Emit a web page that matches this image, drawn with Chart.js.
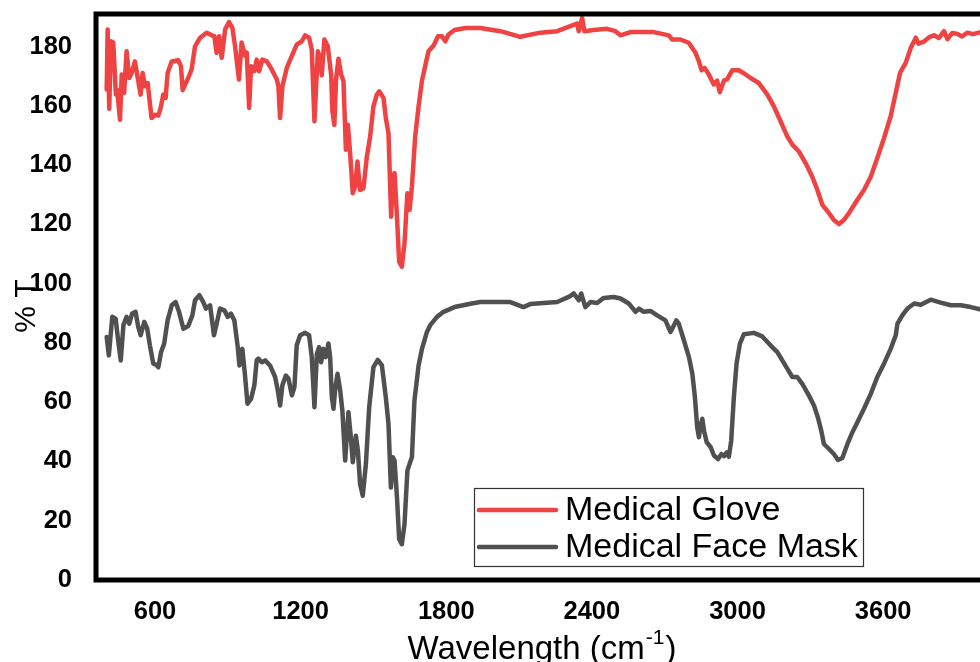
<!DOCTYPE html>
<html>
<head>
<meta charset="utf-8">
<script src="https://cdn.jsdelivr.net/npm/chart.js@4.4.1/dist/chart.umd.min.js"></script>
<style>
  html, body { margin: 0; padding: 0; background: #fff; overflow: hidden; width: 980px; height: 662px; }
  #wrap { position: relative; width: 1000px; height: 662px; }
</style>
</head>
<body>
<div id="wrap"><canvas id="c" width="1000" height="662"></canvas></div>
<script>
const seriesNames = ['Medical Glove', 'Medical Face Mask'];
const xTickValues = [600, 1200, 1800, 2400, 3000, 3600];
const yTickValues = [0, 20, 40, 60, 80, 100, 120, 140, 160, 180];
const xTitle = 'Wavelength (cm';
const xTitleSup = '-1';
const xTitleEnd = ')';
const yTitle = '% T';

const gloveWn = [401,405,411.5,418.5,428,439,444,456,463,473,483,494,504,517.5,527,541,549,559,570,576.5,586,600,613.6,623.5,634,644,652,669,696,707,714,724,737,751,765,786,813,834,844.5,854,864,875,889,905,919,930,946,957,971,978,988,996,1009.5,1019,1029,1042,1061,1081,1102,1108.5,1115.5,1125,1143,1164,1184,1205,1218.6,1235,1246,1257,1271,1277.5,1287,1298,1312,1326,1331,1339,1346,1356,1367,1376.5,1386.5,1394.7,1404,1415,1425,1434,1445,1459,1473,1486.6,1500,1514,1524,1541.5,1551,1562,1573,1580,1587,1597,1606,1617,1628,1640,1649,1658.6,1672,1686,1700,1716,1727,1748,1766,1782,1796,1809.5,1834,1880,1940,2023,2105,2188,2257,2311.5,2339,2346,2360,2369,2407.6,2463,2497,2518,2559,2655,2717,2731,2765,2799,2827,2841,2852,2864.5,2882,2902,2916,2927,2944,2958,2978,3005.5,3026,3053.8,3088,3123,3150,3177.5,3205,3226,3253,3280.6,3308,3329,3349.5,3377,3397,3418,3438.6,3459,3494,3521,3549,3576,3603.5,3631,3652,3669.5,3693,3714,3734.6,3745,3768.5,3790,3810,3830,3851,3865,3885,3906,3925,3947,3970,4002];
const gloveT = [165.5,185.8,159,181.8,181.4,163.8,165.5,155.3,170.6,164.4,178.4,169.4,171.1,175,170.3,163.8,171.1,166.6,167.7,162.7,155.9,157,156.7,159.3,163.8,162.7,171.1,175,175.4,173.4,165.3,167.2,169.4,172.3,180.1,183,184.7,183.8,183.5,177.9,183.5,176.2,185.8,188.3,186.3,180.1,168.9,181.4,176.9,178,159.3,173.4,171.7,175.6,171.7,175.6,175,172.3,168.9,166.6,155.9,166.6,172.8,176.9,180.7,181.8,183.8,183,179,154.8,178.4,176.9,170.3,182.4,180.1,170.3,158.1,153.6,168.9,175.9,170.6,168.5,145.2,153.6,144.1,130.5,132.8,141.2,131.6,132.2,142.9,149.7,159.8,163.8,164.9,162.7,155.9,150.8,122.6,136.2,137.3,122.6,107.4,105.7,113.6,130.5,124.9,132.8,149.7,159.8,168.5,174.5,178.4,180.4,183.5,183.5,181.8,184.1,185.6,186.3,186.3,185.2,183.3,184.7,185.2,186.9,187.8,185.2,189.7,185.2,185.6,186,185.2,183.8,184.9,184.9,183.8,182.4,182.4,181.3,177.9,175,172,172.8,170.6,167.2,168.5,164.6,168.5,169,172,172,171,169.4,167.7,163.8,159.8,154.8,149.7,146.9,144.6,140.7,136.1,131.6,126.6,123.8,121.5,120.1,121.5,123.8,128.3,131.6,136.1,142.4,149.1,156.4,164.4,171.1,174.5,179.6,183,181,181.7,183.2,183.8,182.9,185.2,182.5,184.6,184.3,183.4,184.7,184.2,184.9];

const maskWn = [401,410,424,438,449,459,470,483,494,506,520,531,541,556,568,579,593,604,614,625,638,652,669,685,699,717,737,754,765,783,799,810,827,843,854,868,886,900,913,927,941,948,960,971,981,996,1009.5,1019,1026,1040,1054,1074,1095,1106,1115.5,1125,1139,1150,1164,1174.5,1184,1198,1218.6,1235,1246,1257,1267,1276,1284.6,1294,1304,1314.7,1321.7,1328.7,1335.5,1342,1352,1363,1372,1383.6,1397,1407,1415,1427.7,1436,1445,1456,1469,1482.5,1500,1518,1535,1551,1562,1572,1580,1587,1597,1606,1617,1628,1640,1649,1658.6,1669,1686,1700,1720.5,1734,1762,1789,1834,1900,1940,2064,2118,2146,2257,2311.5,2325,2346,2356,2373,2394,2421.5,2449,2490,2518,2552,2580,2594,2614,2641,2669,2703,2724,2748,2758,2779,2800,2814,2824.5,2834,2841,2848,2855,2862,2873,2889.6,2903,2920,2934,2945,2956,2964.5,2974,2985,2996,3010,3026,3067.5,3102,3136,3164,3184.5,3205,3226,3246,3267,3294,3315,3331,3345,3356,3377,3397,3414,3432,3453,3473,3494,3521,3549,3576,3603.5,3631,3652,3659,3679,3700,3728,3755,3796,3837,3878.5,3920,3961,4002];
const maskT = [82,75.8,88.8,88.2,80.3,74.1,86,88.8,86.5,89.9,90.5,85.4,82.6,87.1,84.8,79.2,73,72.7,71.8,76.9,79.8,87.6,92.7,93.8,90.5,84.8,85.7,89.3,94.4,96.1,93.8,91.6,92.7,82.6,86.5,91.6,91,88.8,89.9,87.6,78.6,72.4,78,69,59.5,61.2,65.7,74.1,74.7,73.5,74.1,72.4,68.5,64,58.9,65.7,69,67.9,62.3,65.1,79.2,82.6,83.4,82.6,75.2,58.3,76.3,78.6,73.5,78,75.2,79.8,75.2,61.7,57.8,64,69.6,64,57.2,40.3,56.6,48.2,39.7,48.7,43.7,32.4,28.4,39.2,58.3,71.8,74.3,72.4,61.7,52.7,31.2,41.4,40.3,27.9,13.8,12.1,18.8,36.9,39.2,41.4,60.6,72.4,78,83.7,86,88.8,90.5,92.1,93.2,93.8,93.8,92.1,93.1,93.8,95.8,96.7,94.4,96.7,92.1,93.8,93.5,95.2,95.5,95,93.3,90.5,91.6,90.5,90.8,89.3,87.6,83.7,87.6,86.5,80.9,75.2,69.6,61.7,51.5,48.2,52.1,54.4,50.4,46.5,44.8,42,40.8,42.5,41.8,43.1,41.6,47,61.7,73,79.8,82.9,83.4,82.2,79.2,76.9,74.1,71.3,68.5,68.5,66.2,62.3,58.9,54.9,50.4,45.9,44.2,42.5,40.5,41.2,45.9,49.8,53.2,57.8,62.8,68.5,73,78,82.6,86.5,89.3,91.6,93.3,92.9,94.6,93.6,92.7,92.7,92.1,91.3];

const seriesColors = ['#ef4242', '#505050'];
const FONT = '"Liberation Sans", Arial, Helvetica, sans-serif';

function pts(xs, ys) { return xs.map((x, i) => ({ x: x, y: ys[i] })); }

const decor = {
  id: 'decor',
  afterDraw(chart) {
    const ctx = chart.ctx;
    const a = chart.chartArea;
    ctx.save();
    ctx.strokeStyle = '#000';
    ctx.lineWidth = 5;
    ctx.strokeRect(a.left, a.top, a.right - a.left, a.bottom - a.top);

    const lx = 474, ly = 488, lw = 389, lh = 78;
    ctx.fillStyle = '#fff';
    ctx.fillRect(lx, ly, lw, lh);
    ctx.lineWidth = 1.2;
    ctx.strokeStyle = '#333';
    ctx.strokeRect(lx + 0.5, ly + 0.5, lw, lh);
    const rows = [510, 547];
    chart.data.datasets.forEach((ds, i) => {
      ctx.strokeStyle = ds.borderColor;
      ctx.lineWidth = 4.5;
      ctx.lineCap = 'round';
      ctx.beginPath();
      ctx.moveTo(479, rows[i]);
      ctx.lineTo(556, rows[i]);
      ctx.stroke();
      ctx.fillStyle = '#000';
      ctx.font = '34px ' + FONT;
      ctx.textAlign = 'left';
      ctx.textBaseline = 'middle';
      ctx.fillText(ds.label, 565, rows[i] + 1);
    });

    ctx.fillStyle = '#000';
    ctx.textBaseline = 'alphabetic';
    ctx.textAlign = 'left';
    ctx.font = '33px ' + FONT;
    const w1 = ctx.measureText(xTitle).width;
    ctx.font = '21px ' + FONT;
    const w2 = ctx.measureText(xTitleSup).width;
    ctx.font = '33px ' + FONT;
    const w3 = ctx.measureText(xTitleEnd).width;
    const total = w1 + w2 + w3 + 2;
    let x0 = 542 - total / 2;
    const base = 659;
    ctx.fillText(xTitle, x0, base);
    ctx.font = '21px ' + FONT;
    ctx.fillText(xTitleSup, x0 + w1 + 1, base - 15);
    ctx.font = '33px ' + FONT;
    ctx.fillText(xTitleEnd, x0 + w1 + w2 + 2, base);

    ctx.save();
    ctx.translate(35, 306);
    ctx.rotate(-Math.PI / 2);
    ctx.font = '30px ' + FONT;
    ctx.textAlign = 'center';
    ctx.textBaseline = 'alphabetic';
    ctx.fillText(yTitle, 0, 0);
    ctx.restore();

    ctx.restore();
  }
};

new Chart(document.getElementById('c'), {
  type: 'line',
  data: {
    datasets: [
      { label: seriesNames[0], data: pts(gloveWn, gloveT), borderColor: seriesColors[0], backgroundColor: seriesColors[0] },
      { label: seriesNames[1], data: pts(maskWn, maskT), borderColor: seriesColors[1], backgroundColor: seriesColors[1] }
    ]
  },
  options: {
    responsive: false,
    animation: false,
    layout: { padding: { top: 14, right: 4, left: 0, bottom: 0 } },
    elements: {
      line: { borderWidth: 4.5, tension: 0, borderJoinStyle: 'round', borderCapStyle: 'round' },
      point: { radius: 0 }
    },
    plugins: { legend: { display: false }, tooltip: { enabled: false } },
    scales: {
      x: {
        type: 'linear',
        min: 357,
        max: 4065,
        grid: { display: false, drawTicks: false },
        border: { display: false },
        afterFit(s) { s.height = 82; s.paddingLeft = 0; s.paddingRight = 0; s.paddingTop = 0; s.paddingBottom = 0; },
        afterBuildTicks(s) { s.ticks = xTickValues.map(v => ({ value: v })); },
        ticks: { color: '#000', padding: 17, maxRotation: 0, autoSkip: false, callback: v => String(v), font: { family: FONT, size: 25.5, weight: 'bold' } }
      },
      y: {
        type: 'linear',
        min: 0,
        max: 191,
        grid: { display: false, drawTicks: false },
        border: { display: false },
        afterFit(s) { s.width = 96; s.paddingLeft = 0; s.paddingRight = 0; s.paddingTop = 0; s.paddingBottom = 0; },
        afterBuildTicks(s) { s.ticks = yTickValues.map(v => ({ value: v })); },
        ticks: { color: '#000', padding: 24, autoSkip: false, callback: v => String(v), font: { family: FONT, size: 25.5, weight: 'bold' } }
      }
    }
  },
  plugins: [decor]
});
</script>
</body>
</html>
